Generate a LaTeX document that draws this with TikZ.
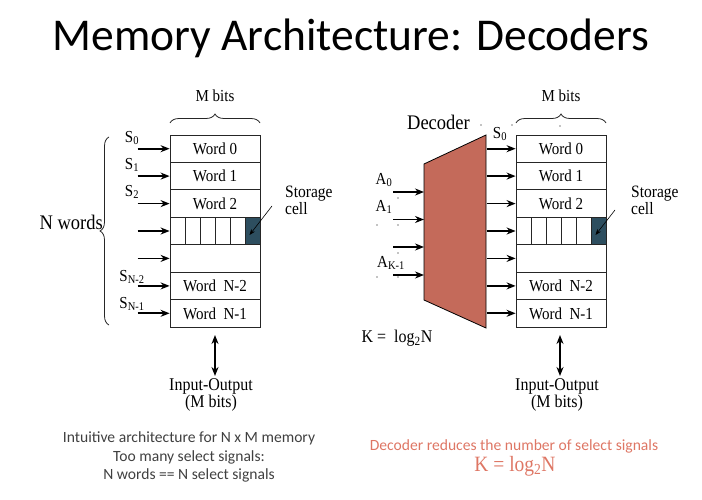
\documentclass[tikz,border=0pt]{standalone}
\usepackage{fontspec}
\setmainfont{Liberation Serif}
\newfontfamily\calib{Carlito}
\usetikzlibrary{arrows.meta,decorations.pathreplacing}
\definecolor{cellblue}{RGB}{45,78,95}
\definecolor{decfill}{RGB}{196,106,90}
\definecolor{salmon}{RGB}{222,118,100}
\definecolor{captgray}{RGB}{64,64,64}
% slightly tall lettering for the diagram labels
\newcommand{\tall}[1]{\scalebox{1}[1.12]{#1}}
\begin{document}
\begin{tikzpicture}[x=1pt,y=-1pt,
  wordrow/.style={draw=black!85,line width=0.8pt,minimum width=90pt,minimum height=27.43pt,
    inner sep=0pt,font=\fontsize{15}{15}\selectfont},
  sel/.style={line width=1.8pt,-{Stealth[length=9pt,width=7pt]}},
  thinarrow/.style={line width=0.6pt,-{Stealth[length=6pt,width=4.5pt]}},
  io/.style={line width=1.8pt,{Stealth[length=9pt,width=7pt]}-{Stealth[length=9pt,width=7pt]}},
  lbl/.style={font=\fontsize{15}{15}\selectfont,inner sep=0pt},
  sig/.style={font=\fontsize{15}{15}\selectfont,inner sep=0pt},
  brc/.style={decorate,decoration={brace,amplitude=9pt},line width=0.8pt,black!85},
  capt/.style={font=\calib\fontsize{15.6}{18.5}\selectfont,align=center,inner sep=0pt},
  speck/.style={fill=black,circle,inner sep=0pt,minimum size=1.3pt}
]
\useasboundingbox (0,0) rectangle (702,500);

% title
\node[font=\calib\fontsize{45.5}{45.5}\selectfont,inner sep=0pt,anchor=base] (title) at (351,50.7) {Memory Architecture: Decoders};

% ---------------- left: one select line per word ----------------
\node[wordrow] (L0) at (215,148.7) {\tall{Word 0}};
\node[wordrow] (L1) at (215,176.1) {\tall{Word 1}};
\node[wordrow] (L2) at (215,203.6) {\tall{Word 2}};
\node[wordrow] (L3) at (215,231.0) {};
\node[wordrow] (L4) at (215,258.4) {};
\node[wordrow] (L5) at (215,285.9) {\tall{Word\ \ N-2}};
\node[wordrow] (L6) at (215,313.3) {\tall{Word\ \ N-1}};
% bit cells of one word
\foreach \cx in {185,200,215,230,245}
  \draw[line width=0.8pt,black!85] (\cx,217.3) -- (\cx,244.7);
\node[draw=black!85,line width=0.8pt,fill=cellblue,minimum width=15pt,minimum height=27.43pt,inner sep=0pt] (Lcell) at (252.5,231.0) {};

% select lines
\foreach \r in {L0,L1,L2,L3,L4,L5,L6}
  \draw[sel] ([xshift=-32pt]\r.west) -- (\r.west);
\node[sig] (ls0) at (132,138) {\tall{S\textsubscript{0}}};
\node[sig] (ls1) at (132,165) {\tall{S\textsubscript{1}}};
\node[sig] (ls2) at (132,192) {\tall{S\textsubscript{2}}};
\node[sig] (ls5) at (132,277) {\tall{S\textsubscript{N-2}}};
\node[sig] (ls6) at (132,304) {\tall{S\textsubscript{N-1}}};

% braces
\draw[brc] (109,325) -- (109,137);
\node[font=\fontsize{18.5}{18.5}\selectfont,inner sep=0pt,anchor=east] (nwords) at (103,222) {\tall{N words}};
\draw[brc] (170,123) -- (260,123);
\node[lbl] (lmbits) at (215,96) {\tall{M bits}};

% storage cell callout
\node[lbl,align=left,anchor=north west,font=\fontsize{15.5}{17}\selectfont] (lstor) at (285,186) {\tall{Storage}\\\tall{cell}};
\coordinate (lstorpt) at (272,206);
\draw[thinarrow] (lstorpt) -- ([shift={(-3pt,-4pt)}]Lcell.center);

% input/output
\coordinate (lioTop) at (215,335);
\coordinate (lioBot) at (215,376);
\draw[io] (lioTop) -- (lioBot);
\node[lbl,align=center,font=\fontsize{16}{17}\selectfont] (lio) at (211,395) {\tall{Input-Output}\\\tall{(M bits)}};

\node[capt,text=captgray] (lcap) at (189,457) {Intuitive architecture for N x M memory\\Too many select signals:\\N words == N select signals};

% ---------------- right: address decoder ----------------
\node[wordrow] (R0) at (561,148.7) {\tall{Word 0}};
\node[wordrow] (R1) at (561,176.1) {\tall{Word 1}};
\node[wordrow] (R2) at (561,203.6) {\tall{Word 2}};
\node[wordrow] (R3) at (561,231.0) {};
\node[wordrow] (R4) at (561,258.4) {};
\node[wordrow] (R5) at (561,285.9) {\tall{Word\ \ N-2}};
\node[wordrow] (R6) at (561,313.3) {\tall{Word\ \ N-1}};
\foreach \cx in {531,546,561,576,591}
  \draw[line width=0.8pt,black!85] (\cx,217.3) -- (\cx,244.7);
\node[draw=black!85,line width=0.8pt,fill=cellblue,minimum width=15pt,minimum height=27.43pt,inner sep=0pt] (Rcell) at (598.5,231.0) {};

% decoder body
\draw[fill=decfill,line width=0.8pt] (424,164) coordinate (dTL) -- (486,135) coordinate (dTR)
  -- (486,328) coordinate (dBR) -- (424,300) coordinate (dBL) -- cycle;
\node[font=\fontsize{18.5}{18.5}\selectfont,inner sep=0pt] (declbl) at (438.5,122) {\tall{Decoder}};

% decoder outputs
\foreach \r in {R0,R1,R2,R3,R4,R5,R6}
  \draw[sel] ([xshift=-29pt]\r.west) -- (\r.west);
\node[sig] (rs0) at (500,134) {\tall{S\textsubscript{0}}};

% address inputs
\coordinate (a0) at (424,192);
\coordinate (a1) at (424,219.5);
\coordinate (a2) at (424,247);
\coordinate (a3) at (424,275);
\foreach \a in {a0,a1,a2,a3}
  \draw[sel] ([xshift=-31pt]\a) -- (\a);
\node[sig] (la0) at (384,180) {\tall{A\textsubscript{0}}};
\node[sig] (la1) at (384,207) {\tall{A\textsubscript{1}}};
\node[sig] (lak) at (391,263) {\tall{A\textsubscript{K-1}}};

% stray specks
\foreach \p in {(481,125),(512,125),(560,126),(398,198),(377,225),(398,225),(398,253),(377,277),(398,277)}
  \node[speck] at \p {};

\node[inner sep=0pt,font=\fontsize{16}{16}\selectfont] (kform) at (397,338) {\tall{K =\ \ log\textsubscript{2}N}};

% brace and storage callout
\draw[brc] (516,123) -- (606,123);
\node[lbl] (rmbits) at (561,96) {\tall{M bits}};
\node[lbl,align=left,anchor=north west,font=\fontsize{15.5}{17}\selectfont] (rstor) at (631,186) {\tall{Storage}\\\tall{cell}};
\coordinate (rstorpt) at (615,210);
\draw[thinarrow] (rstorpt) -- ([shift={(-3pt,-4pt)}]Rcell.center);

% input/output
\coordinate (rioTop) at (560,335);
\coordinate (rioBot) at (560,376);
\draw[io] (rioTop) -- (rioBot);
\node[lbl,align=center,font=\fontsize{16}{17}\selectfont] (rio) at (557,395) {\tall{Input-Output}\\\tall{(M bits)}};

\node[capt,text=salmon] (rcap) at (514,446) {Decoder reduces the number of select signals};
\node[text=salmon,font=\fontsize{19.5}{19.5}\selectfont,inner sep=0pt] (rform) at (515,466) {\tall{K = log\textsubscript{2}N}};
\end{tikzpicture}
\end{document}
